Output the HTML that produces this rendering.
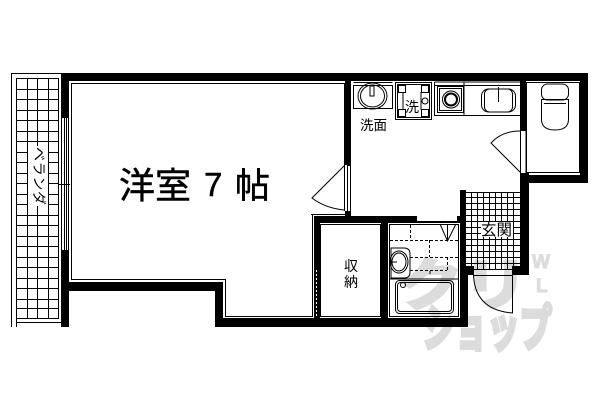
<!DOCTYPE html>
<html><head><meta charset="utf-8"><style>
html,body{margin:0;padding:0;background:#fff}
svg{display:block}
text{font-family:"Liberation Sans","Noto Sans CJK JP",sans-serif;fill:#000}
</style></head><body>
<svg width="600" height="400" viewBox="0 0 600 400" xmlns="http://www.w3.org/2000/svg" shape-rendering="crispEdges">
<rect width="600" height="400" fill="#fff"/>
<!-- balcony -->
<g fill="none" stroke="#000" stroke-width="1">
<path d="M11.5 327V73.5H61M16.5 327V78.5H58.5V318.5H16.5M16.5 322.5H61"/>
<path d="M27.5 78V318M37.5 78V318M48.5 78V318M58.5 78V318" />
<path d="M16 89.5H59M16 99.5H59M16 110.5H59M16 120.5H59M16 131.5H59M16 141.5H59M16 152.5H59M16 162.5H59M16 173.5H59M16 183.5H59M16 194.5H59M16 204.5H59M16 215.5H59M16 225.5H59M16 236.5H59M16 246.5H59M16 257.5H59M16 267.5H59M16 278.5H59M16 288.5H59M16 299.5H59M16 308.5H59"/>
<path d="M59 184.5H70"/>
</g>
<rect x="28" y="146" width="20" height="60" fill="#fff"/>
<text transform="translate(34,147) rotate(90)" x="0" y="0" font-size="14" textLength="58" lengthAdjust="spacing">ベランダ</text>
<!-- window -->
<g stroke="#000" stroke-width="1"><path d="M61.5 118V250M64.5 118V250M66.5 118V250M68.5 118V250"/></g>
<!-- watermark -->
<g shape-rendering="auto">
<text x="398" y="305" font-size="56" font-weight="bold" style="fill:#dcdcdc;stroke:#dcdcdc;stroke-width:3" textLength="130" lengthAdjust="spacingAndGlyphs">クリ</text>
<text x="422" y="346" font-size="50" font-weight="bold" style="fill:#dcdcdc;stroke:#dcdcdc;stroke-width:4" textLength="130" lengthAdjust="spacingAndGlyphs">ショップ</text>
<text x="532" y="268" font-size="19" font-weight="bold" style="fill:#dcdcdc;stroke:#dcdcdc;stroke-width:1">W</text>
<text x="536" y="292" font-size="19" font-weight="bold" style="fill:#dcdcdc;stroke:#dcdcdc;stroke-width:1">L</text>
</g>
<!-- walls -->
<g fill="#000">
<rect x="61" y="73" width="527" height="8"/>
<rect x="61" y="73" width="8" height="45"/>
<rect x="61" y="250" width="8" height="77"/>
<rect x="61" y="282" width="162" height="9"/>
<rect x="215" y="282" width="8" height="45"/>
<rect x="215" y="318" width="253" height="9"/>
<rect x="345" y="81" width="6" height="84"/>
<rect x="345" y="211" width="6" height="5"/>
<rect x="314" y="216" width="103" height="7"/>
<rect x="417" y="221" width="40" height="2"/>
<rect x="314" y="216" width="6" height="102"/>
<rect x="381" y="216" width="7" height="102"/>
<rect x="457" y="216" width="9" height="7"/>
<rect x="460" y="190" width="6" height="137"/>
<rect x="460" y="266" width="14" height="9"/>
<rect x="460" y="275" width="8" height="52"/>
<rect x="512" y="266" width="17" height="9"/>
<rect x="520" y="173" width="9" height="102"/>
<rect x="520" y="81" width="6" height="50"/>
<rect x="580" y="73" width="8" height="110"/>
<rect x="520" y="175" width="68" height="8"/>
</g>
<path d="M316.5 270V318" stroke="#fff" stroke-dasharray="2 2"/>
<!-- room outlines -->
<g fill="none" stroke="#000" stroke-width="1">
<path d="M344.5 165V83.5H71.5V279.5H225.5V316.5H313"/>
<path d="M344.5 165V211M311 214.5H345M312.5 215V317"/>
<rect x="347.5" y="165.5" width="3" height="46"/>
<path d="M520.5 131V173M526 131V173"/>
<rect x="320.5" y="224.5" width="60" height="92"/>
<rect x="389.5" y="224.5" width="69" height="92"/>
<rect x="526.5" y="82.5" width="53" height="90"/>
</g>
<!-- doors -->
<g fill="none" stroke="#000" stroke-width="1" shape-rendering="auto">
<path d="M344 166L312 198Q325 208 344 210"/>
<path d="M520 131Q502 131 491 143L520 172"/>
<path d="M473.5 275Q475 310 512.5 313V275"/>
</g>
<path d="M473 275.5H513" stroke="#000"/>
<!-- genkan grid -->
<g stroke="#000" stroke-width="1">
<path d="M466 192.5H520M466 197.5H520M466 203.5H520M466 209.5H520M466 215.5H520M466 221.5H520M466 227.5H520M466 233.5H520M466 239.5H520M466 245.5H520M466 251.5H520M466 257.5H520M466 263.5H520M466 269.5H520"/>
<path d="M471.5 193V270M477.5 193V270M483.5 193V270M489.5 193V270M495.5 193V270M501.5 193V270M507.5 193V270M513.5 193V270"/>
</g>
<rect x="481" y="222" width="32" height="15" fill="#fff"/>
<text x="481" y="235" font-size="15.5">玄関</text>
<!-- kitchen -->
<g fill="none" stroke="#000" stroke-width="1">
<path d="M353.5 82.5H392.5M353.5 85.5H392.5"/>
<rect x="353.5" y="85.5" width="39" height="23"/>
<rect x="395.5" y="82.5" width="36" height="37"/>
<rect x="397.5" y="84.5" width="32" height="33"/>
<path d="M403 92V110M421 92V110" />
<rect x="398.5" y="85.5" width="7" height="7" fill="#fff"/>
<rect x="421.5" y="85.5" width="7" height="7" fill="#fff"/>
<rect x="398.5" y="109.5" width="7" height="7" fill="#fff"/>
<rect x="421.5" y="109.5" width="7" height="7" fill="#fff"/>
<path d="M434.5 82V115.5H520M434.5 82H520M434.5 85.5H520"/>
<rect x="437.5" y="86.5" width="26" height="26"/>
<rect x="439.5" y="88.5" width="22" height="22"/>
<path d="M464 82V115"/>
</g>
<g fill="none" stroke="#000" stroke-width="1" shape-rendering="auto">
<ellipse cx="372.5" cy="96" rx="14.5" ry="13"/>
<ellipse cx="372.5" cy="96" rx="12" ry="11"/>
<rect x="370" y="86" width="4" height="10" fill="#fff"/>
<circle cx="451" cy="99.5" r="6" stroke-width="2"/>
<circle cx="451" cy="99.5" r="8.5" stroke-width="1"/>
<rect x="481.5" y="89" width="34" height="23" rx="7"/>
<rect x="484.5" y="89" width="28" height="23" rx="5"/>
<path d="M498.5 87V102"/>
</g>
<text x="405" y="112" font-size="14">洗</text>
<circle cx="425" cy="101" r="3" fill="none" stroke="#000" shape-rendering="auto"/>
<text x="360" y="130" font-size="13.5">洗面</text>
<!-- toilet -->
<g fill="none" stroke="#000" stroke-width="1" shape-rendering="auto">
<rect x="541.5" y="84" width="27" height="16" rx="6"/>
<path d="M541.5 99.5H568.5V120Q568 130 555 130Q542 130 541.5 120Z"/>
<path d="M544 103.5H566"/>
</g>
<!-- bath -->
<g fill="none" stroke="#000" stroke-width="1">
<path d="M410.5 225V238M390 240.5H459M429.5 240V257M390 257.5H459M447.5 257V270M410 270.5H447M430 271V275" stroke-dasharray="3 2"/>
<path d="M440 224L447.5 241L456 224M447.5 225V240" shape-rendering="auto"/>
</g>
<g fill="none" stroke="#000" stroke-width="1" shape-rendering="auto">
<path d="M391 248H404Q410 248 410 254V272Q410 278 404 278H391Z" fill="#fff"/>
<ellipse cx="399" cy="262" rx="9" ry="11"/>
<ellipse cx="399" cy="262" rx="7" ry="9"/>
<path d="M391 262H397"/>
<rect x="395.5" y="280.5" width="58" height="33" rx="4"/>
<rect x="397.5" y="282.5" width="54" height="29" rx="3"/>
<circle cx="403" cy="285" r="2.5"/>
</g>
<path d="M389 279H459" stroke="#000"/>
<!-- labels -->
<g style="stroke:#000;stroke-width:.5" shape-rendering="auto">
<text x="119" y="198" font-size="36">洋室</text>
<text x="204" y="196" font-size="33">7</text>
<text x="235" y="198" font-size="35">帖</text>
</g>
<text x="344" y="271" font-size="14">収</text>
<text x="344" y="287" font-size="14">納</text>
</svg>
</body></html>
